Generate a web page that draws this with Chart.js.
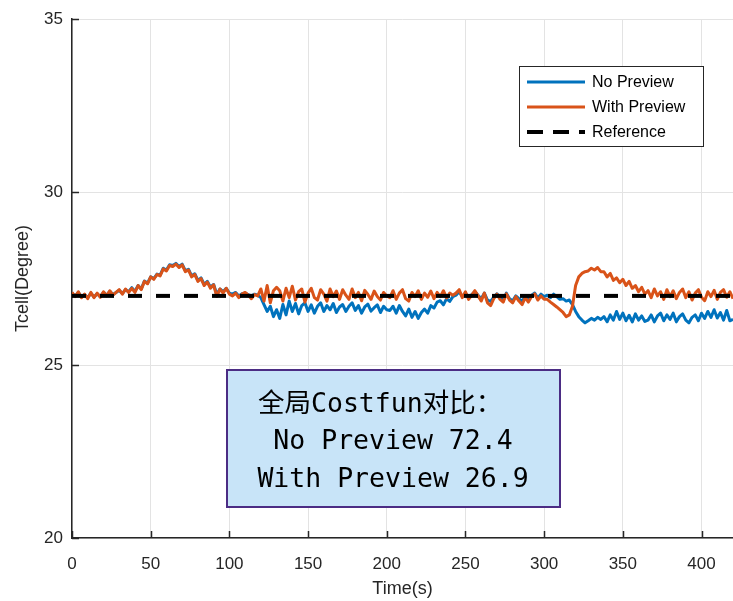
<!DOCTYPE html>
<html>
<head>
<meta charset="utf-8">
<title>Tcell</title>
<script src="https://cdn.jsdelivr.net/npm/chart.js@4/dist/chart.umd.min.js"></script>
<style>
  html, body { margin: 0; padding: 0; background: #fff; }
  canvas { display: block; }
</style>
</head>
<body>
<canvas id="chart" width="733" height="601"></canvas>
<script>
// sample step of the logged temperatures (s)
const dt = 2
const xTicks = [0, 50, 100, 150, 200, 250, 300, 350, 400]
const yTicks = [20, 25, 30, 35]
const referenceValue = 27

const noPreview = [
  27.08, 27.0, 27.1, 26.97, 27.04, 26.95, 27.08, 26.97, 27.06, 26.98, 27.1, 27.02, 27.13, 27.04, 27.1, 27.16, 27.07, 27.18, 27.12,
  27.24, 27.13, 27.3, 27.2, 27.43, 27.37, 27.55, 27.5, 27.63, 27.6, 27.8, 27.75, 27.9, 27.88,
  27.94, 27.85, 27.92, 27.73, 27.77,
  27.58, 27.64, 27.45, 27.52, 27.33, 27.42, 27.25, 27.33, 27.05, 27.2, 27.12, 27.22, 27.08,
  27.05, 27.1, 27.0, 27.06, 27.08, 27.04, 27.0, 27.05, 27.02,
  26.95, 26.75, 26.55, 26.7, 26.4, 26.6,
  26.35, 26.75, 26.45, 26.85, 26.55, 26.78, 26.48, 26.72, 26.8, 26.55, 26.74, 26.5, 26.7, 26.8, 26.55, 26.72, 26.6, 26.78,
  26.52, 26.68, 26.75, 26.55, 26.7, 26.8, 26.58, 26.72, 26.5, 26.68, 26.76, 26.56, 26.66, 26.74, 26.52, 26.7, 26.6,
  26.58, 26.7, 26.5, 26.72, 26.55, 26.42, 26.62, 26.38, 26.55, 26.35, 26.52, 26.62, 26.5, 26.72, 26.65, 26.82, 26.86, 26.74, 26.92, 26.84, 26.98,
  27.02, 27.12, 26.98, 27.08, 26.94, 27.04, 27.12, 27.02, 26.92, 27.08, 26.88, 26.84, 26.96, 27.06, 26.95, 26.88, 27.08, 26.92, 26.86, 27.0,
  26.92, 26.85, 26.98, 26.9, 27.02, 27.08, 26.94, 27.05, 26.98,
  27.02, 26.95, 27.05, 26.98, 26.9, 26.92, 26.85, 26.88, 26.75,
  26.55, 26.4, 26.3, 26.22, 26.28, 26.35, 26.3, 26.38, 26.32,
  26.4, 26.25, 26.45, 26.3, 26.55, 26.32, 26.5, 26.28, 26.44, 26.25, 26.48, 26.3, 26.42, 26.26,
  26.3, 26.45, 26.25, 26.42, 26.5, 26.28, 26.45, 26.32, 26.5, 26.25, 26.4, 26.48, 26.3, 26.22,
  26.38, 26.45, 26.28, 26.5, 26.35, 26.55, 26.38, 26.6, 26.36, 26.52, 26.3, 26.58, 26.28, 26.32
]

const withPreview = [
  27.1, 26.98, 27.12, 26.95, 27.05, 26.92, 27.1, 26.95, 27.08, 26.96, 27.12, 27.0, 27.15, 27.02, 27.1, 27.18, 27.05, 27.2, 27.1,
  27.22, 27.1, 27.3, 27.18, 27.42, 27.35, 27.55, 27.48, 27.62, 27.58, 27.78, 27.72, 27.88, 27.85,
  27.92, 27.82, 27.9, 27.7, 27.75,
  27.55, 27.62, 27.42, 27.5, 27.3, 27.4, 27.22, 27.32, 26.98, 27.2, 27.08, 27.22, 27.05,
  27.0, 27.08, 26.95, 27.05, 27.1, 27.02, 26.92, 27.04, 27.0,
  27.2, 26.85, 27.3, 26.8, 27.15, 27.25,
  27.15, 26.85, 27.22, 26.95, 27.28, 26.88, 27.12, 27.2, 26.82, 27.08, 27.22, 26.95, 26.88, 27.18, 27.05, 26.85, 27.2, 26.98,
  27.14, 26.9, 27.18, 27.02, 26.9, 27.2, 26.95, 27.1, 26.86, 27.16, 27.04, 26.9, 27.14, 26.98, 26.88, 27.1, 27.0,
  26.95, 27.15, 26.9, 27.08, 27.18, 26.92, 26.85, 27.1, 26.98, 27.15, 26.9, 27.08, 26.96, 27.14, 26.92, 27.1, 26.98, 27.15, 26.94, 27.08, 27.02,
  27.08, 27.18, 26.95, 27.12, 26.9, 27.02, 27.15, 27.0, 26.85, 27.08, 26.8, 26.72, 26.92, 27.05, 26.9, 26.82, 27.06, 26.88, 26.8, 26.98,
  26.85, 26.75, 26.95, 26.82, 26.98, 27.06, 26.88, 27.0, 26.9,
  26.9, 26.82, 26.75, 26.68, 26.6, 26.52, 26.4, 26.45, 26.7,
  27.3, 27.55, 27.65, 27.7, 27.72, 27.8, 27.75, 27.82, 27.7,
  27.7, 27.55, 27.65, 27.45, 27.52, 27.38, 27.48, 27.3, 27.42, 27.22, 27.3, 27.12, 27.25, 27.05,
  27.15, 26.95, 27.2, 27.0, 27.12, 26.9, 27.18, 26.98, 27.15, 26.92, 27.1, 27.2, 26.95, 27.12,
  26.88, 27.08, 27.18, 26.96, 26.86, 27.12, 26.98, 27.16, 26.9, 27.1, 27.18, 26.96, 27.12, 26.92
]

const seriesNames = ['No Preview', 'With Preview', 'Reference']
const boxLines = ['全局Costfun对比：', 'No Preview 72.4', 'With Preview 26.9']

const BLUE = '#0072BD'
const ORANGE = '#D95319'
const AXIS = '#262626'

const toPoints = arr => arr.map((v, i) => ({ x: i * dt, y: v }))

// MATLAB style ticks pointing into the plot
const innerTicks = {
  id: 'innerTicks',
  afterDatasetsDraw (chart) {
    const { ctx, chartArea: a, scales: { x, y } } = chart
    ctx.save()
    ctx.strokeStyle = AXIS
    ctx.lineWidth = 1.5
    ctx.beginPath()
    xTicks.forEach(v => {
      const px = Math.round(x.getPixelForValue(v)) + 0.5
      ctx.moveTo(px, a.bottom)
      ctx.lineTo(px, a.bottom - 7)
    })
    yTicks.forEach(v => {
      const py = Math.round(y.getPixelForValue(v)) + 0.5
      ctx.moveTo(a.left, py)
      ctx.lineTo(a.left + 7, py)
    })
    ctx.stroke()
    ctx.restore()
  }
}

// legend box in the upper right and the cost summary box
const overlays = {
  id: 'overlays',
  afterDraw (chart) {
    const ctx = chart.ctx
    ctx.save()

    // legend
    ctx.fillStyle = '#fff'
    ctx.fillRect(519.5, 66.5, 184, 80)
    ctx.strokeStyle = AXIS
    ctx.lineWidth = 1
    ctx.strokeRect(519.5, 66.5, 184, 80)
    const rows = [82, 107, 132]
    const styles = [
      { color: BLUE, width: 3, dash: [] },
      { color: ORANGE, width: 3, dash: [] },
      { color: '#000', width: 4, dash: [16, 10] }
    ]
    ctx.font = '16px "Liberation Sans", Arial, sans-serif'
    ctx.textBaseline = 'middle'
    seriesNames.forEach((name, i) => {
      const s = styles[i]
      ctx.strokeStyle = s.color
      ctx.lineWidth = s.width
      ctx.setLineDash(s.dash)
      ctx.beginPath()
      ctx.moveTo(527, rows[i])
      ctx.lineTo(585, rows[i])
      ctx.stroke()
      ctx.setLineDash([])
      ctx.fillStyle = '#000'
      ctx.fillText(name, 592, rows[i] + 1)
    })

    // cost summary
    ctx.fillStyle = '#C8E4F8'
    ctx.fillRect(227, 370, 333, 137)
    ctx.strokeStyle = '#4B2C84'
    ctx.lineWidth = 2
    ctx.strokeRect(227, 370, 333, 137)
    ctx.fillStyle = '#000'
    ctx.font = '26.5px "DejaVu Sans Mono", "Noto Sans CJK SC", monospace'
    ctx.textBaseline = 'middle'
    ctx.textAlign = 'left'
    ctx.fillText(boxLines[0], 258, 405)
    ctx.textAlign = 'center'
    ctx.fillText(boxLines[1], 393, 442)
    ctx.fillText(boxLines[2], 393, 480)

    ctx.restore()
  }
}

const tickFont = { family: '"Liberation Sans", Arial, sans-serif', size: 17 }
const titleFont = { family: '"Liberation Sans", Arial, sans-serif', size: 18 }

const data = {
  datasets: [
    {
      label: seriesNames[0],
      data: toPoints(noPreview),
      borderColor: BLUE,
      borderWidth: 3,
      order: 2
    },
    {
      label: seriesNames[1],
      data: toPoints(withPreview),
      borderColor: ORANGE,
      borderWidth: 3,
      order: 1
    },
    {
      label: seriesNames[2],
      data: [{ x: 0, y: referenceValue }, { x: 420, y: referenceValue }],
      borderColor: '#000',
      borderWidth: 4,
      borderDash: [14, 14],
      order: 0
    }
  ]
}

const config = {
  type: 'line',
  data,
  plugins: [innerTicks, overlays],
  options: {
    responsive: false,
    animation: false,
    layout: { padding: { top: 17, right: 0, left: 0, bottom: 0 } },
    elements: {
      point: { radius: 0 },
      line: { tension: 0, borderCapStyle: 'butt', borderJoinStyle: 'round' }
    },
    plugins: {
      legend: { display: false },
      tooltip: { enabled: false }
    },
    scales: {
      x: {
        type: 'linear',
        min: 0,
        max: 420,
        afterBuildTicks: scale => { scale.ticks = xTicks.map(v => ({ value: v })) },
        afterFit: scale => { scale.height = 63 },
        grid: { color: '#e3e3e3', lineWidth: 1, drawTicks: false },
        border: { display: true, color: AXIS, width: 1.5 },
        ticks: { color: AXIS, font: tickFont, padding: 16, maxRotation: 0 },
        title: { display: true, text: 'Time(s)', color: AXIS, font: titleFont, padding: { top: 0, bottom: 1 } }
      },
      y: {
        min: 20,
        max: 35,
        afterBuildTicks: scale => { scale.ticks = yTicks.map(v => ({ value: v })) },
        afterFit: scale => { scale.width = 72 },
        grid: { color: '#e3e3e3', lineWidth: 1, drawTicks: false },
        border: { display: true, color: AXIS, width: 1.5 },
        ticks: { color: AXIS, font: tickFont, padding: 9 },
        title: { display: true, text: 'Tcell(Degree)', color: AXIS, font: titleFont, padding: { top: 12, bottom: 0 } }
      }
    }
  }
}

new Chart(document.getElementById('chart').getContext('2d'), config)
</script>
</body>
</html>
